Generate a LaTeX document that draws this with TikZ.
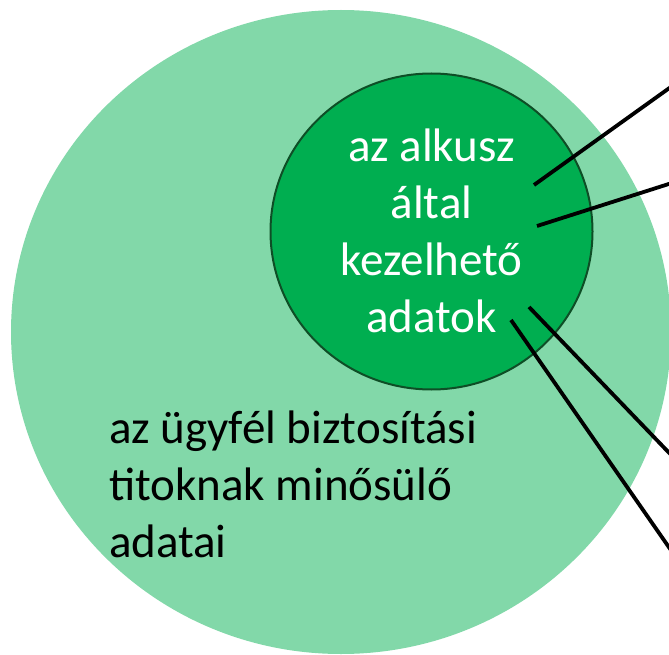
\documentclass[tikz,border=0pt]{standalone}
\usepackage{fontspec}
\setmainfont{Carlito}
\definecolor{outergreen}{RGB}{130,216,169}
\definecolor{innergreen}{RGB}{0,174,80}
\definecolor{rimgreen}{RGB}{14,78,38}
\tikzset{
  leader/.style={draw=black, line width=3.8pt},
  bigtext/.style={font=\fontsize{47}{57}\selectfont, inner sep=0pt, outer sep=0pt},
}
\begin{document}
\begin{tikzpicture}[x=1pt,y=-1pt]
\useasboundingbox (0,0) rectangle (669,655);
\clip (0,0) rectangle (669,655);
\fill[outergreen] (341,332) ellipse [x radius=330pt, y radius=322pt];
\filldraw[fill=innergreen, draw=rimgreen, line width=2pt] (431.5,231.5) ellipse [x radius=161pt, y radius=158pt];
\node[bigtext, text=white, align=center, anchor=base] (inner) at (431.5,332) {az alkusz\\által\\kezelhető\\adatok};
\node[bigtext, text=black, align=left, anchor=base west] (outer) at (109,557) {az ügyfél biztosítási\\titoknak minősülő\\adatai};
\coordinate (a1) at (534,185); \coordinate (b1) at (675,84);
\coordinate (a2) at (537,226); \coordinate (b2) at (675,182);
\coordinate (a3) at (529,307); \coordinate (b3) at (675,459);
\coordinate (a4) at (511,320); \coordinate (b4) at (675,556);
\draw[leader] (a1) -- (b1);
\draw[leader] (a2) -- (b2);
\draw[leader] (a3) -- (b3);
\draw[leader] (a4) -- (b4);
\end{tikzpicture}
\end{document}
